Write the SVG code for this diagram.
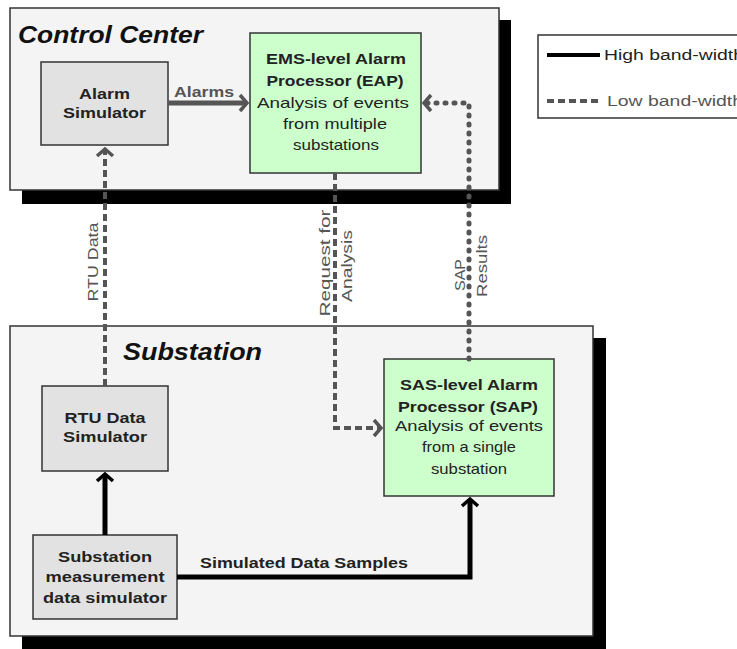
<svg xmlns="http://www.w3.org/2000/svg" width="737" height="649" viewBox="0 0 737 649">
<style>
.container{fill:#f4f4f4;stroke:#333;stroke-width:1.5}
.shadow{fill:#000}
.gray{fill:#e2e2e2;stroke:#333;stroke-width:1.5}
.green{fill:#ccffcc;stroke:#333;stroke-width:1.5}
text{font-family:"Liberation Sans",Arial,sans-serif;fill:#222}
.title{font-size:24px;font-weight:bold;font-style:italic;fill:#111}
.b{font-size:15px;font-weight:bold;text-anchor:middle}
.n{font-size:15px;text-anchor:middle}
.lbl{font-size:14px;fill:#555;text-anchor:middle}
.solid{fill:none;stroke:#000;stroke-width:5}
.gsolid{fill:none;stroke:#555;stroke-width:5}
.dash{fill:none;stroke:#555;stroke-width:4;stroke-dasharray:7 4}
.dot{fill:none;stroke:#555;stroke-width:5;stroke-dasharray:1 8;stroke-linecap:round}
</style>
<defs>
<marker id="ahb" viewBox="-12 -12 24 24" markerWidth="24" markerHeight="24" refX="0" refY="0" orient="auto" markerUnits="userSpaceOnUse"><path d="M -7 -8 L 0 0 L -7 8" fill="none" stroke="#000" stroke-width="3.5"/></marker>
<marker id="ahg" viewBox="-12 -12 24 24" markerWidth="24" markerHeight="24" refX="0" refY="0" orient="auto" markerUnits="userSpaceOnUse"><path d="M -7 -8 L 0 0 L -7 8" fill="none" stroke="#555" stroke-width="3.5"/></marker>
</defs>
<rect width="737" height="649" fill="#fff"/>

<g id="control-center">
<rect class="shadow" x="22" y="20" width="489" height="184"/>
<rect class="container" x="10" y="8" width="489" height="182"/>
<text class="title" x="18" y="43" textLength="185" lengthAdjust="spacingAndGlyphs">Control Center</text>
</g>

<g id="substation">
<rect class="shadow" x="22" y="338" width="584" height="311"/>
<rect class="container" x="10" y="326" width="583" height="310"/>
<text class="title" x="123" y="360" textLength="139" lengthAdjust="spacingAndGlyphs">Substation</text>
</g>

<g id="legend">
<rect x="538" y="35" width="210" height="83" fill="#fff" stroke="#333" stroke-width="1.5"/>
<line x1="547" y1="55" x2="600" y2="55" stroke="#000" stroke-width="4"/>
<text x="604" y="60" font-size="14" fill="#111" textLength="140" lengthAdjust="spacingAndGlyphs">High band-width</text>
<line x1="547" y1="101" x2="600" y2="101" stroke="#555" stroke-width="4" stroke-dasharray="7 4"/>
<text x="607" y="106" font-size="14" style="fill:#555" textLength="136" lengthAdjust="spacingAndGlyphs">Low band-width</text>
</g>

<g id="alarm-simulator">
<rect class="gray" x="41" y="62" width="127" height="83"/>
<text class="b" x="104.5" y="99" textLength="51" lengthAdjust="spacingAndGlyphs">Alarm</text>
<text class="b" x="104.5" y="118" textLength="83" lengthAdjust="spacingAndGlyphs">Simulator</text>
</g>

<g id="eap">
<rect class="green" x="250" y="33" width="171" height="140"/>
<text class="b" x="336" y="64" textLength="140" lengthAdjust="spacingAndGlyphs">EMS-level Alarm</text>
<text class="b" x="335" y="86" textLength="137" lengthAdjust="spacingAndGlyphs">Processor (EAP)</text>
<text class="n" x="333" y="108" textLength="152" lengthAdjust="spacingAndGlyphs">Analysis of events</text>
<text class="n" x="335" y="129" textLength="104" lengthAdjust="spacingAndGlyphs">from multiple</text>
<text class="n" x="336" y="150" textLength="86" lengthAdjust="spacingAndGlyphs">substations</text>
</g>

<g id="rtu-data-simulator">
<rect class="gray" x="42" y="386" width="126" height="85"/>
<text class="b" x="105" y="423" textLength="81" lengthAdjust="spacingAndGlyphs">RTU Data</text>
<text class="b" x="105" y="442" textLength="84" lengthAdjust="spacingAndGlyphs">Simulator</text>
</g>

<g id="measurement-simulator">
<rect class="gray" x="33" y="535" width="144" height="84"/>
<text class="b" x="105" y="562" textLength="94" lengthAdjust="spacingAndGlyphs">Substation</text>
<text class="b" x="105" y="582" textLength="119" lengthAdjust="spacingAndGlyphs">measurement</text>
<text class="b" x="105" y="603" textLength="124" lengthAdjust="spacingAndGlyphs">data simulator</text>
</g>

<g id="sap">
<rect class="green" x="384" y="359" width="170" height="137"/>
<text class="b" x="469" y="390" textLength="138" lengthAdjust="spacingAndGlyphs">SAS-level Alarm</text>
<text class="b" x="468" y="412" textLength="140" lengthAdjust="spacingAndGlyphs">Processor (SAP)</text>
<text class="n" x="469" y="431" textLength="148" lengthAdjust="spacingAndGlyphs">Analysis of events</text>
<text class="n" x="469" y="452" textLength="94" lengthAdjust="spacingAndGlyphs">from a single</text>
<text class="n" x="469" y="474" textLength="76" lengthAdjust="spacingAndGlyphs">substation</text>
</g>

<g id="connectors">
<path class="gsolid" d="M168,103 H247" marker-end="url(#ahg)"/>
<text x="204" y="97" font-size="15" font-weight="bold" style="fill:#555" text-anchor="middle" textLength="60" lengthAdjust="spacingAndGlyphs">Alarms</text>

<path class="dash" d="M105,386 V149" marker-end="url(#ahg)"/>
<text class="lbl" transform="translate(98,262) rotate(-90)" textLength="79" lengthAdjust="spacingAndGlyphs">RTU Data</text>

<path class="dash" d="M335,173 V428 H381" marker-end="url(#ahg)"/>
<text class="lbl" transform="translate(330,263) rotate(-90)" textLength="107" lengthAdjust="spacingAndGlyphs">Request for</text>
<text class="lbl" transform="translate(352,266) rotate(-90)" textLength="72" lengthAdjust="spacingAndGlyphs">Analysis</text>

<path class="dot" d="M469,359 V103 H424" marker-end="url(#ahg)"/>
<text class="lbl" transform="translate(465,275) rotate(-90)" textLength="32" lengthAdjust="spacingAndGlyphs">SAP</text>
<text class="lbl" transform="translate(487,266) rotate(-90)" textLength="62" lengthAdjust="spacingAndGlyphs">Results</text>

<path class="solid" d="M105,535 V474" marker-end="url(#ahb)"/>
<path class="solid" d="M177,577 H470 V499" marker-end="url(#ahb)"/>
<text x="304" y="568" font-size="15" font-weight="bold" text-anchor="middle" textLength="208" lengthAdjust="spacingAndGlyphs">Simulated Data Samples</text>
</g>
</svg>
